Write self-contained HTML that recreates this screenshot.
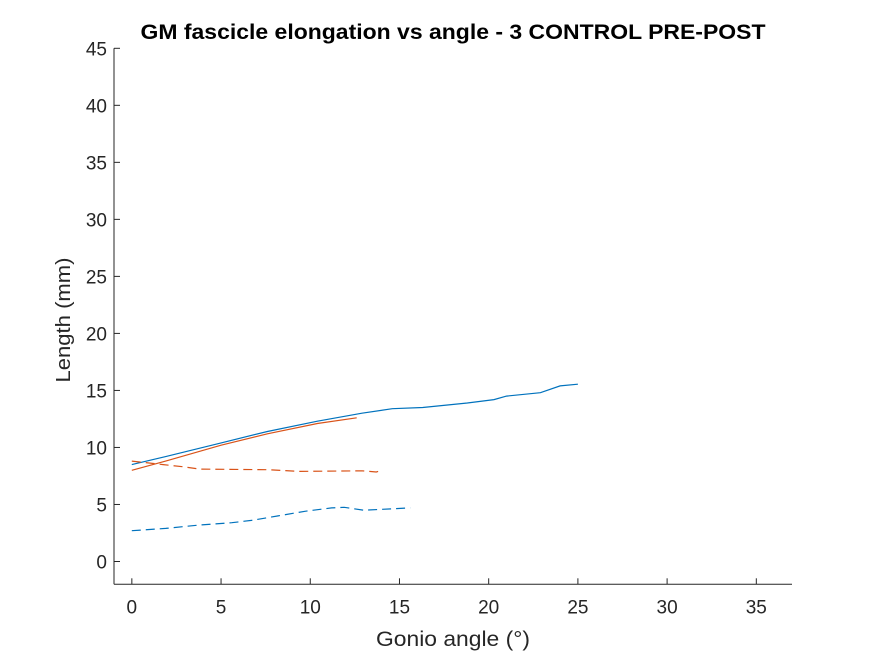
<!DOCTYPE html>
<html><head><meta charset="utf-8"><style>
body{margin:0;background:#fff;}
svg{display:block;font-family:"Liberation Sans",Arial,sans-serif;}
</style></head><body>
<svg id="chart" width="875" height="656">
<rect width="875" height="656" fill="#fff"/>
<text x="453" y="39" text-anchor="middle" font-size="21" font-weight="bold" fill="#000" textLength="625" lengthAdjust="spacingAndGlyphs">GM fascicle elongation vs angle - 3 CONTROL PRE-POST</text>
<g id="axes"></g>
<g id="series"></g>
<text x="453" y="646" text-anchor="middle" font-size="21" fill="#262626" textLength="154" lengthAdjust="spacingAndGlyphs">Gonio angle (°)</text>
<text transform="translate(70,320) rotate(-90)" text-anchor="middle" font-size="20" fill="#262626" textLength="125" lengthAdjust="spacingAndGlyphs">Length (mm)</text>
</svg>
<script>
const xTicks=[0,5,10,15,20,25,30,35];
const yTicks=[0,5,10,15,20,25,30,35,40,45];
const blueSolidX=[0,1.9,5,7.6,10.4,12.9,14.6,16.3,18.8,20.3,21,22.9,24,25];
const blueSolidY=[8.5,9.2,10.4,11.4,12.3,13,13.4,13.5,13.9,14.2,14.5,14.8,15.4,15.55];
const redSolidX=[0,1.9,5,7.6,10.4,12.6];
const redSolidY=[8,8.8,10.2,11.2,12.1,12.6];
const redDashX=[0,1.75,2.9,3.8,7.6,9.4,12.9,13.7,14];
const redDashY=[8.8,8.5,8.3,8.1,8.05,7.9,7.95,7.85,8];
const blueDashX=[0,1.9,3.8,5.6,6.7,8.2,9.7,11.2,11.9,13,15.6];
const blueDashY=[2.7,2.9,3.2,3.4,3.6,4,4.4,4.7,4.75,4.5,4.7];

const L=114,R=792,T=48.3,B=584.3;
const xmin=-1,xmax=37,ymin=-2,ymax=45;
const sx=v=>L+(v-xmin)/(xmax-xmin)*(R-L);
const sy=v=>B-(v-ymin)/(ymax-ymin)*(B-T);
const NS="http://www.w3.org/2000/svg";
const axes=document.getElementById('axes');
const ser=document.getElementById('series');
function mk(tag,attrs,parent){const e=document.createElementNS(NS,tag);for(const k in attrs)e.setAttribute(k,attrs[k]);parent.appendChild(e);return e;}
const xa=mk('line',{x1:L,y1:B,x2:R,y2:B,stroke:'#262626','stroke-width':1},axes);


const ya=mk('line',{x1:L,y1:T,x2:L,y2:B,stroke:'#262626','stroke-width':1},axes);


xTicks.forEach(t=>{
  const tk=mk('line',{x1:sx(t),y1:B,x2:sx(t),y2:B-6,stroke:'#262626'},axes);
  
  
  const lb=mk('text',{x:sx(t),y:B+29,'text-anchor':'middle','font-size':19,fill:'#262626'},axes);
  lb.textContent=t;
  
  
});
yTicks.forEach(t=>{
  const tk=mk('line',{x1:L,y1:sy(t),x2:L+6,y2:sy(t),stroke:'#262626'},axes);
  
  
  const lb=mk('text',{x:L-7,y:sy(t)+7,'text-anchor':'end','font-size':19,fill:'#262626'},axes);
  lb.textContent=t;
  
  
});
function line(xs,ys,color,dash,name){
  const d=xs.map((x,i)=>(i?'L':'M')+sx(x).toFixed(1)+','+sy(ys[i]).toFixed(1)).join(' ');
  const p=mk('path',{d:d,fill:'none',stroke:color,'stroke-width':1.2},ser);
  if(dash)p.setAttribute('stroke-dasharray','9 5');
  
  
}
line(blueSolidX,blueSolidY,'#0072BD',false,'blue-solid-line');
line(redSolidX,redSolidY,'#D95319',false,'red-solid-line');
line(redDashX,redDashY,'#D95319',true,'red-dashed-line');
line(blueDashX,blueDashY,'#0072BD',true,'blue-dashed-line');
</script>
</body></html>
